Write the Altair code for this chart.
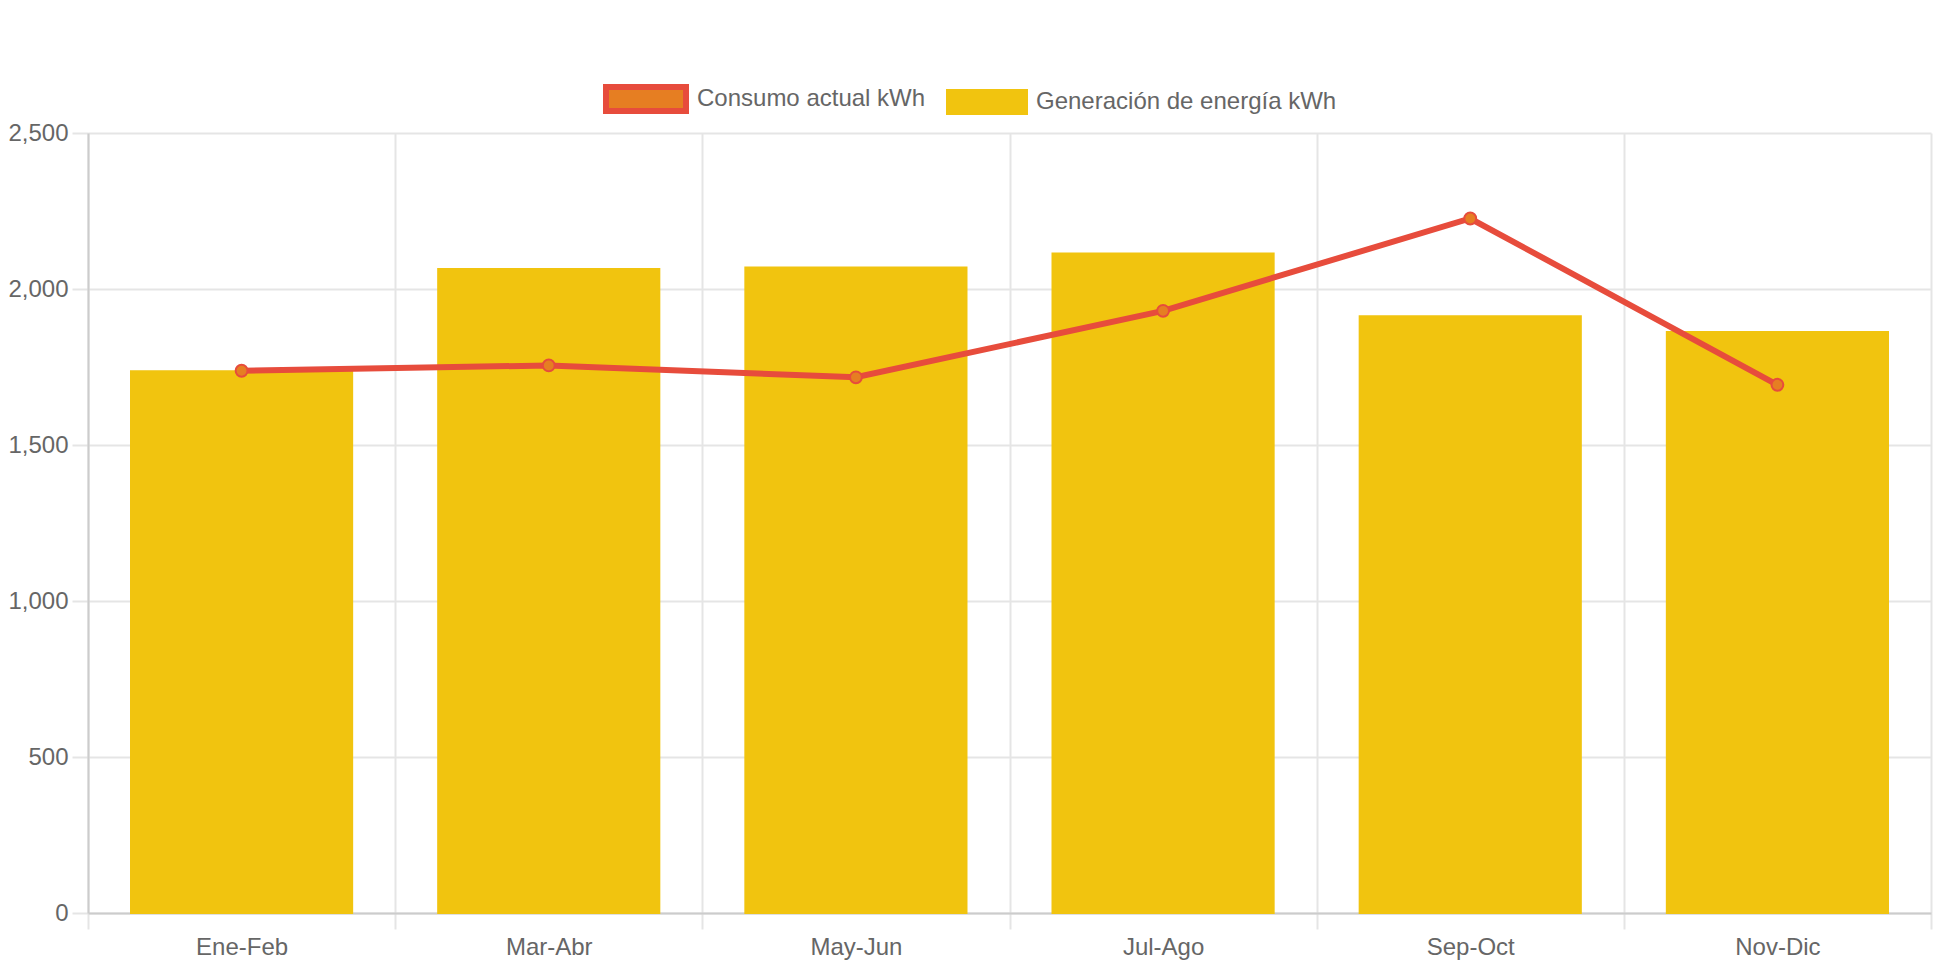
import json
import altair as alt
import pandas as pd

FONT = "Liberation Sans"

periodos = ["Ene-Feb", "Mar-Abr", "May-Jun", "Jul-Ago", "Sep-Oct", "Nov-Dic"]
generacion = [1736, 2064, 2069, 2114, 1913, 1862]
consumo = [1738, 1755, 1717, 1930, 2226, 1693]
series = ["Consumo actual kWh", "Generación de energía kWh"]
y_ticks = [0, 500, 1000, 1500, 2000, 2500]

fill_colors = ["#E67E22", "#F1C40F"]
stroke_colors = ["#E74C3C", "#F1C40F"]
stroke_widths = [6, 2]

W, H = 1843, 780
n = len(periodos)

df = pd.DataFrame({
    "idx": list(range(n)),
    "periodo": periodos,
    "generacion": generacion,
    "consumo": consumo,
    "serie": [series[1]] * n,
})

label_expr = json.dumps(periodos) + "[datum.value] || ''"

x_scale = alt.Scale(domain=[0, n], nice=False, zero=False, padding=0)
y_scale = alt.Scale(domain=[0, 2500], nice=False, padding=0)

x_axis = alt.Axis(
    values=list(range(n + 1)), grid=True, gridColor="#e5e5e5", gridWidth=2,
    ticks=True, tickSize=16, tickColor="#e5e5e5", tickWidth=2,
    domain=True, domainColor="#cccccc", domainWidth=2,
    labelExpr=label_expr, labelOffset=W / n / 2, labelFontSize=24,
    labelColor="#666666", labelFont=FONT, labelPadding=6,
    labelFlush=False, labelOverlap=False, labelBound=False, title=None,
)
y_axis = alt.Axis(
    values=y_ticks, format=",.0f", grid=True, gridColor="#e5e5e5", gridWidth=2,
    ticks=True, tickSize=16, tickColor="#e5e5e5", tickWidth=2,
    domain=True, domainColor="#cccccc", domainWidth=2,
    labelFontSize=24, labelColor="#666666", labelFont=FONT, labelPadding=4,
    title=None,
)

legend = alt.Legend(
    orient="none", legendX=515, legendY=-77, direction="horizontal", title=None,
    symbolType="M-1,-0.3H1V0.3H-1Z", symbolSize=6400, symbolOpacity=1,
    labelFontSize=24, labelColor="#666666", labelFont=FONT, labelLimit=500,
    columnPadding=17, labelOffset=8, padding=0,
)

base = alt.Chart(df).transform_calculate(
    x0="datum.idx + 0.14", x1="datum.idx + 0.86", xc="datum.idx + 0.5"
)

bars = base.mark_bar(opacity=1, orient="vertical").encode(
    x=alt.X("x0:Q", scale=x_scale, axis=x_axis),
    x2="x1:Q",
    y=alt.Y("generacion:Q", scale=y_scale, axis=y_axis),
    fill=alt.Fill("serie:N", scale=alt.Scale(domain=series, range=fill_colors), legend=legend),
    stroke=alt.Stroke("serie:N", scale=alt.Scale(domain=series, range=stroke_colors), legend=legend),
    strokeWidth=alt.StrokeWidth("serie:N", scale=alt.Scale(domain=series, range=stroke_widths), legend=legend),
)

line = base.mark_line(color="#E74C3C", strokeWidth=6).encode(
    x=alt.X("xc:Q", scale=x_scale),
    y=alt.Y("consumo:Q", scale=y_scale),
)

points = base.mark_circle(size=140, fill="#E67E22", stroke="#E74C3C", strokeWidth=2, opacity=1).encode(
    x=alt.X("xc:Q", scale=x_scale),
    y=alt.Y("consumo:Q", scale=y_scale),
)

chart = alt.layer(bars, line, points).properties(
    width=W, height=H,
    autosize=alt.AutoSizeParams(type="none"),
    padding={"left": 80, "top": 125, "right": 3, "bottom": 47},
    background="white",
).configure_view(stroke=None)

chart.save("out.html", embed_options={"renderer": "svg", "actions": False})
